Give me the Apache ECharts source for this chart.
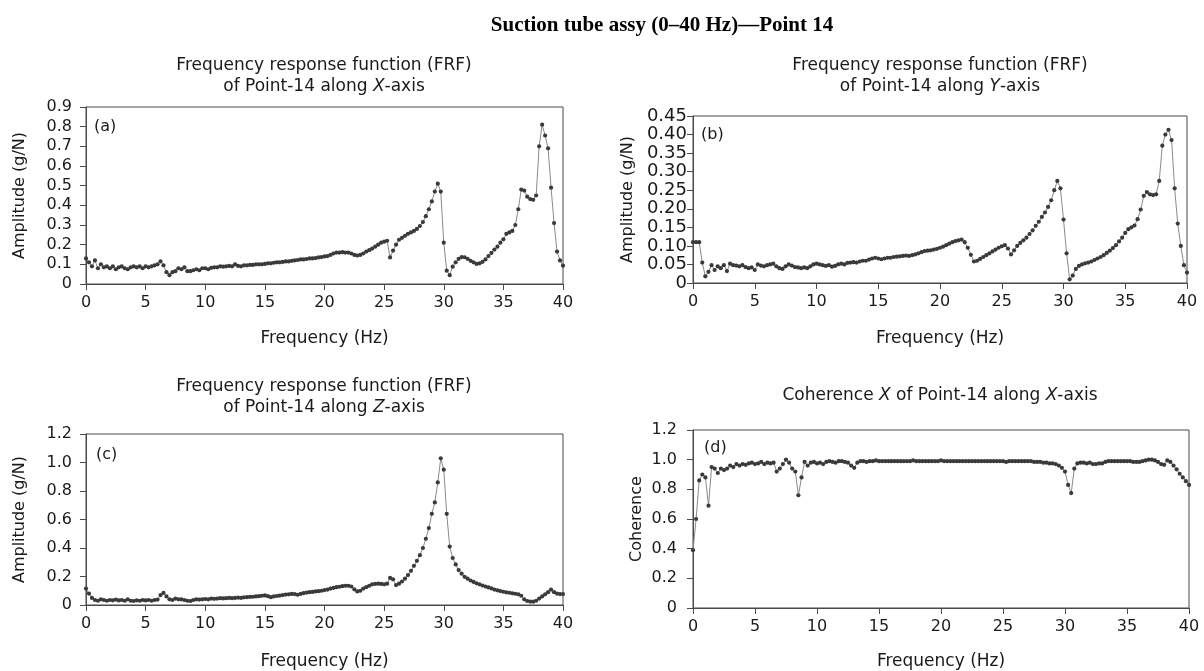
<!DOCTYPE html>
<html>
<head>
<meta charset="utf-8">
<script src="https://cdn.jsdelivr.net/npm/echarts@6/dist/echarts.min.js"></script>
<style>
html,body{margin:0;padding:0;background:#fff;}
#chart{width:1204px;height:671px;}
</style>
</head>
<body>
<div id="chart"></div>
<script>
// ---- Data (frequency grid: 0 to 40 Hz, step 0.25 Hz) ----
const freqStep = 0.25;

// (a) FRF amplitude, X-axis (g/N)
const ampX = [
  0.13, 0.11, 0.09, 0.12, 0.08, 0.10, 0.085, 0.09, 0.08, 0.09, 0.075, 0.085, 0.09, 0.08, 0.075, 0.085, 0.09, 0.085, 0.09, 0.08,
  0.09, 0.085, 0.09, 0.095, 0.10, 0.115, 0.095, 0.06, 0.045, 0.06, 0.065, 0.08, 0.075, 0.085, 0.065, 0.065, 0.07, 0.075, 0.07, 0.08,
  0.08, 0.075, 0.082, 0.085, 0.085, 0.09, 0.088, 0.09, 0.092, 0.09, 0.10, 0.092, 0.09, 0.095, 0.095, 0.097, 0.097, 0.10, 0.10, 0.10,
  0.102, 0.105, 0.105, 0.108, 0.11, 0.11, 0.112, 0.115, 0.115, 0.118, 0.12, 0.122, 0.125, 0.125, 0.127, 0.13, 0.13, 0.132, 0.135, 0.137,
  0.14, 0.142, 0.148, 0.155, 0.16, 0.16, 0.162, 0.16, 0.16, 0.155, 0.148, 0.145, 0.148, 0.155, 0.165, 0.172, 0.18, 0.19, 0.20, 0.21,
  0.215, 0.22, 0.135, 0.17, 0.20, 0.225, 0.235, 0.245, 0.255, 0.262, 0.27, 0.28, 0.295, 0.315, 0.345, 0.38, 0.42, 0.47, 0.51, 0.47,
  0.21, 0.068, 0.045, 0.088, 0.11, 0.128, 0.137, 0.136, 0.128, 0.118, 0.11, 0.102, 0.105, 0.113, 0.125, 0.142, 0.158, 0.175, 0.19, 0.21,
  0.227, 0.255, 0.262, 0.27, 0.30, 0.38, 0.48, 0.475, 0.444, 0.432, 0.428, 0.45, 0.70, 0.81, 0.755, 0.69, 0.49, 0.31, 0.165, 0.12,
  0.093
];

// (b) FRF amplitude, Y-axis (g/N)
const ampY = [
  0.11, 0.11, 0.11, 0.055, 0.018, 0.03, 0.048, 0.035, 0.045, 0.04, 0.048, 0.032, 0.052, 0.048, 0.047, 0.045, 0.048, 0.043, 0.04, 0.042,
  0.035, 0.05, 0.047, 0.045, 0.048, 0.05, 0.052, 0.045, 0.04, 0.038, 0.045, 0.05, 0.047, 0.043, 0.042, 0.04, 0.042, 0.04, 0.045, 0.05,
  0.052, 0.05, 0.048, 0.046, 0.048, 0.044, 0.046, 0.05, 0.052, 0.05, 0.054, 0.055, 0.056, 0.055, 0.058, 0.06, 0.06, 0.063, 0.066, 0.068,
  0.066, 0.064, 0.066, 0.068, 0.068, 0.07, 0.071, 0.072, 0.073, 0.074, 0.073, 0.075, 0.077, 0.08, 0.083, 0.086, 0.087, 0.088, 0.09, 0.092,
  0.095, 0.098, 0.102, 0.106, 0.11, 0.113, 0.115, 0.117, 0.11, 0.095, 0.076, 0.058, 0.06, 0.065, 0.07, 0.075, 0.08, 0.085, 0.09, 0.095,
  0.099, 0.102, 0.093, 0.077, 0.088, 0.10, 0.108, 0.115, 0.122, 0.132, 0.142, 0.154, 0.165, 0.178, 0.19, 0.205, 0.223, 0.25, 0.275, 0.255,
  0.171, 0.08, 0.01, 0.02, 0.038, 0.046, 0.05, 0.053, 0.055, 0.058, 0.062, 0.066, 0.07, 0.075, 0.081, 0.087, 0.094, 0.102, 0.112, 0.122,
  0.135, 0.145, 0.15, 0.155, 0.172, 0.198, 0.235, 0.245, 0.239, 0.237, 0.239, 0.275, 0.37, 0.40, 0.413, 0.385, 0.255, 0.16, 0.10, 0.048,
  0.028
];

// (c) FRF amplitude, Z-axis (g/N)
const ampZ = [
  0.115, 0.08, 0.05, 0.035, 0.03, 0.04, 0.035, 0.03, 0.035, 0.033, 0.038, 0.032, 0.035, 0.03, 0.04, 0.03, 0.028, 0.033, 0.03, 0.035,
  0.032, 0.035, 0.03, 0.035, 0.038, 0.07, 0.085, 0.06, 0.04, 0.035, 0.045, 0.04, 0.04, 0.035, 0.03, 0.028, 0.035, 0.04, 0.038, 0.04,
  0.042, 0.04, 0.045, 0.043, 0.045, 0.048, 0.046, 0.048, 0.05, 0.048, 0.05, 0.052, 0.05, 0.054, 0.055, 0.057, 0.058, 0.06, 0.062, 0.065,
  0.067, 0.062, 0.055, 0.06, 0.063, 0.066, 0.07, 0.073, 0.075, 0.078, 0.077, 0.072, 0.078, 0.083, 0.087, 0.09, 0.092, 0.095, 0.097, 0.10,
  0.105, 0.108, 0.115, 0.12, 0.125, 0.128, 0.132, 0.135, 0.135, 0.13, 0.11, 0.095, 0.10, 0.115, 0.125, 0.135, 0.145, 0.148, 0.15, 0.148,
  0.145, 0.15, 0.19, 0.18, 0.14, 0.15, 0.165, 0.185, 0.21, 0.24, 0.275, 0.31, 0.35, 0.40, 0.465, 0.54, 0.64, 0.72, 0.86, 1.03,
  0.95, 0.64, 0.41, 0.33, 0.285, 0.245, 0.22, 0.198, 0.185, 0.172, 0.162, 0.152, 0.145, 0.137, 0.13, 0.123, 0.116, 0.108, 0.103, 0.098,
  0.093, 0.089, 0.086, 0.082, 0.079, 0.075, 0.065, 0.04, 0.028, 0.024, 0.023, 0.03, 0.045, 0.06, 0.075, 0.09, 0.108, 0.09, 0.08, 0.077,
  0.077
];

// (d) Coherence X
const cohX = [
  0.39, 0.60, 0.86, 0.90, 0.88, 0.69, 0.95, 0.94, 0.91, 0.94, 0.93, 0.94, 0.96, 0.95, 0.97, 0.96, 0.97, 0.965, 0.975, 0.98,
  0.97, 0.975, 0.985, 0.97, 0.98, 0.975, 0.98, 0.92, 0.94, 0.97, 1.00, 0.98, 0.94, 0.92, 0.76, 0.88, 0.985, 0.96, 0.98, 0.985,
  0.975, 0.98, 0.97, 0.985, 0.99, 0.985, 0.98, 0.99, 0.99, 0.985, 0.98, 0.96, 0.945, 0.98, 0.99, 0.99, 0.985, 0.99, 0.99, 0.995,
  0.99, 0.99, 0.99, 0.99, 0.99, 0.99, 0.99, 0.99, 0.99, 0.99, 0.99, 0.995, 0.99, 0.99, 0.99, 0.99, 0.99, 0.99, 0.99, 0.99,
  0.995, 0.99, 0.99, 0.99, 0.99, 0.99, 0.99, 0.99, 0.99, 0.99, 0.99, 0.99, 0.99, 0.99, 0.99, 0.99, 0.99, 0.99, 0.99, 0.99,
  0.99, 0.985, 0.99, 0.99, 0.99, 0.99, 0.99, 0.99, 0.99, 0.99, 0.985, 0.985, 0.985, 0.98, 0.98, 0.975, 0.975, 0.97, 0.96, 0.945,
  0.92, 0.83, 0.775, 0.94, 0.975, 0.98, 0.98, 0.975, 0.98, 0.97, 0.97, 0.975, 0.975, 0.985, 0.99, 0.99, 0.99, 0.99, 0.99, 0.99,
  0.99, 0.99, 0.985, 0.985, 0.985, 0.99, 0.995, 1.00, 1.00, 0.995, 0.985, 0.97, 0.965, 0.995, 0.985, 0.96, 0.935, 0.905, 0.88, 0.855,
  0.83
];

const panelTitles = [
  ['Frequency response function (FRF)', 'of Point-14 along ', 'X', '-axis'],
  ['Frequency response function (FRF)', 'of Point-14 along ', 'Y', '-axis'],
  ['Frequency response function (FRF)', 'of Point-14 along ', 'Z', '-axis']
];
const panelLetters = ['(a)', '(b)', '(c)', '(d)'];
const mainTitle = 'Suction tube assy (0\u201340 Hz)\u2014Point 14';
const xName = 'Frequency (Hz)';
const ampName = 'Amplitude (g/N)';
const cohName = 'Coherence';

// ---- Layout ----
const SANS = 'DejaVu Sans';
const TXT = '#1a1a1a';
const AX = '#4a4a4a';

const grids = [
  {left: 86, top: 107, width: 477, height: 177},
  {left: 693, top: 116, width: 494, height: 167},
  {left: 86, top: 434, width: 477, height: 171},
  {left: 693, top: 430, width: 496, height: 178}
];

function pts(arr) { return arr.map((v, i) => [i * freqStep, v]); }

function richTitle(t) {
  return '{n|' + t[0] + '}\n{n|' + t[1] + '}{i|' + t[2] + '}{n|' + t[3] + '}';
}
const richStyle = {
  n: {fontFamily: SANS, fontSize: 17, fontWeight: 'normal', color: TXT, lineHeight: 21},
  i: {fontFamily: SANS, fontSize: 17, fontWeight: 'normal', color: TXT, lineHeight: 21, fontStyle: 'italic'}
};

function xAxis(g, gap) {
  return {
    type: 'value', gridIndex: g, min: 0, max: 40, interval: 5,
    name: xName, nameLocation: 'middle', nameGap: gap,
    nameTextStyle: {fontFamily: SANS, fontSize: 17, color: TXT},
    axisLine: {show: true, onZero: false, lineStyle: {color: AX, width: 1}},
    axisTick: {show: true, length: 6, lineStyle: {color: AX}},
    axisLabel: {margin: 11, fontFamily: SANS, fontSize: 16, color: TXT},
    splitLine: {show: false}
  };
}
function yAxis(g, max, interval, dec, name, gap, margin, fs) {
  return {
    type: 'value', gridIndex: g, min: 0, max: max, interval: interval,
    name: name, nameLocation: 'middle', nameGap: gap, nameRotate: 90,
    nameTextStyle: {fontFamily: SANS, fontSize: 16, color: TXT},
    axisLine: {show: true, lineStyle: {color: AX, width: 1}},
    axisTick: {show: true, length: 6, lineStyle: {color: AX}},
    axisLabel: {margin: margin, fontFamily: SANS, fontSize: fs, color: TXT,
      formatter: v => (Math.abs(v) < 1e-9 ? '0' : v.toFixed(dec))},
    splitLine: {show: false}
  };
}
function series(g, arr) {
  return {
    type: 'line', xAxisIndex: g, yAxisIndex: g, data: pts(arr),
    showAllSymbol: true, symbol: 'circle', symbolSize: 4.2,
    lineStyle: {color: '#8a8a8a', width: 1},
    itemStyle: {color: '#3a3a3a'},
    animation: false, silent: true
  };
}

const chart = echarts.init(document.getElementById('chart'), null, {renderer: 'canvas'});
chart.setOption({
  backgroundColor: '#ffffff',
  animation: false,
  title: [
    {text: mainTitle, left: 662, top: 15, textAlign: 'center', padding: 0,
     textStyle: {fontFamily: 'Liberation Serif', fontWeight: 'bold', fontSize: 21, color: '#000'}},
    {text: richTitle(panelTitles[0]), left: 324, top: 55, textAlign: 'center', padding: 0,
     textStyle: {fontWeight: 'normal', rich: richStyle}},
    {text: richTitle(panelTitles[1]), left: 940, top: 55, textAlign: 'center', padding: 0,
     textStyle: {fontWeight: 'normal', rich: richStyle}},
    {text: richTitle(panelTitles[2]), left: 324, top: 376, textAlign: 'center', padding: 0,
     textStyle: {fontWeight: 'normal', rich: richStyle}},
    {text: '{n|Coherence }{i|X}{n| of Point-14 along }{i|X}{n|-axis}', left: 940, top: 385, textAlign: 'center', padding: 0,
     textStyle: {fontWeight: 'normal', rich: richStyle}},
    {text: panelLetters[0], left: 94, top: 119, padding: 0, textStyle: {fontFamily: SANS, fontSize: 16, fontWeight: 'normal', color: TXT}},
    {text: panelLetters[1], left: 701, top: 127, padding: 0, textStyle: {fontFamily: SANS, fontSize: 16, fontWeight: 'normal', color: TXT}},
    {text: panelLetters[2], left: 96, top: 447, padding: 0, textStyle: {fontFamily: SANS, fontSize: 16, fontWeight: 'normal', color: TXT}},
    {text: panelLetters[3], left: 704, top: 440, padding: 0, textStyle: {fontFamily: SANS, fontSize: 16, fontWeight: 'normal', color: TXT}}
  ],
  grid: grids.map(g => Object.assign({show: true, borderColor: AX, borderWidth: 1, backgroundColor: 'transparent'}, g)),
  xAxis: [xAxis(0, 46), xAxis(1, 47), xAxis(2, 48), xAxis(3, 45)],
  yAxis: [
    yAxis(0, 0.9, 0.1, 1, ampName, 58, 14, 16),
    yAxis(1, 0.45, 0.05, 2, ampName, 57, 6, 18),
    yAxis(2, 1.2, 0.2, 1, ampName, 58, 14, 16),
    yAxis(3, 1.2, 0.2, 1, cohName, 48, 16, 16)
  ],
  series: [series(0, ampX), series(1, ampY), series(2, ampZ), series(3, cohX)]
});
</script>
</body>
</html>
